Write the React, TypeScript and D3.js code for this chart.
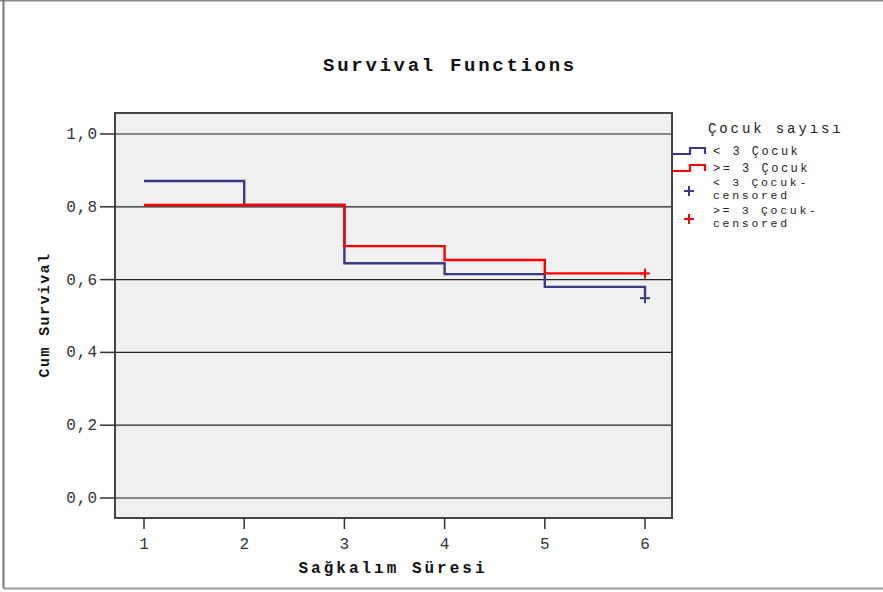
import React from "react";
import * as d3 from "d3";

// Survival times (years) and Kaplan–Meier estimates per group
const times = [1, 2, 3, 4, 5, 6];
const survLess3 = [0.871, 0.805, 0.645, 0.615, 0.58, 0.549];
const survMore3 = [0.805, 0.805, 0.692, 0.654, 0.617, 0.617];
const censorTime = 6;
const yTicks = [0, 0.2, 0.4, 0.6, 0.8, 1.0];
const xTicks = [1, 2, 3, 4, 5, 6];
const groupLabels = ["< 3 Çocuk", ">= 3 Çocuk"];
const censorLabels = [["< 3 Çocuk-", "censored"], [">= 3 Çocuk-", "censored"]];
const legendTitle = "Çocuk sayısı";

const W = 883;
const H = 592;
const plot = { left: 115, right: 672, top: 113, bottom: 518 };
const BLUE = "#3a3a88";
const RED = "#ff0000";
const MONO = "'Liberation Mono', 'DejaVu Sans Mono', monospace";

const x = d3.scaleLinear().domain([1, 6]).range([144, 645]);
const y = d3.scaleLinear().domain([0, 1]).range([498, 134]);

const stepLine = d3
  .line<[number, number]>()
  .x((d) => x(d[0]))
  .y((d) => y(d[1]))
  .curve(d3.curveStepAfter);

const fmt = (v: number) => v.toFixed(1).replace(".", ",");

function Plus({ cx, cy, color }: { cx: number; cy: number; color: string }) {
  return (
    <g stroke={color} strokeWidth={2}>
      <line x1={cx - 5} x2={cx + 5} y1={cy} y2={cy} />
      <line x1={cx} x2={cx} y1={cy - 5} y2={cy + 5} />
    </g>
  );
}

export default function App() {
  const series = [
    { vals: survLess3, color: BLUE },
    { vals: survMore3, color: RED },
  ];
  return (
    <svg
      width={W}
      height={H}
      style={{ position: "absolute", left: 0, top: 0, background: "#fff" }}
    >
      {/* outer frame */}
      <line x1={0} x2={W} y1={0.5} y2={0.5} stroke="#888" strokeWidth={2} />
      <line x1={3.5} x2={3.5} y1={0} y2={588} stroke="#777" strokeWidth={2} />
      <line x1={3} x2={W} y1={588.5} y2={588.5} stroke="#999" strokeWidth={2} />

      <text
        x={450}
        y={71}
        textAnchor="middle"
        fontFamily={MONO}
        fontWeight="bold"
        fontSize={19}
        letterSpacing={2.7}
        fill="#111"
      >
        Survival Functions
      </text>

      {/* plot panel */}
      <rect
        x={plot.left}
        y={plot.top}
        width={plot.right - plot.left}
        height={plot.bottom - plot.top}
        fill="#f0f0f0"
      />
      {yTicks.map((t) => (
        <line
          key={"g" + t}
          x1={plot.left}
          x2={plot.right}
          y1={y(t)}
          y2={y(t)}
          stroke="#222"
          strokeWidth={1.2}
        />
      ))}
      <rect
        x={plot.left}
        y={plot.top}
        width={plot.right - plot.left}
        height={plot.bottom - plot.top}
        fill="none"
        stroke="#444"
        strokeWidth={2}
      />

      {/* y axis */}
      {yTicks.map((t) => (
        <g key={"y" + t}>
          <line x1={100} x2={plot.left} y1={y(t)} y2={y(t)} stroke="#333" strokeWidth={1.5} />
          <text
            x={98}
            y={y(t) + 5}
            textAnchor="end"
            fontFamily={MONO}
            fontSize={16}
            letterSpacing={1}
            fill="#333"
          >
            {fmt(t)}
          </text>
        </g>
      ))}
      <text
        transform={`translate(49,315) rotate(-90)`}
        textAnchor="middle"
        fontFamily={MONO}
        fontWeight="bold"
        fontSize={15}
        letterSpacing={1.4}
        fill="#111"
      >
        Cum Survival
      </text>

      {/* x axis */}
      {xTicks.map((t) => (
        <g key={"x" + t}>
          <line x1={x(t)} x2={x(t)} y1={plot.bottom} y2={529} stroke="#333" strokeWidth={1.5} />
          <text
            x={x(t)}
            y={549}
            textAnchor="middle"
            fontFamily={MONO}
            fontSize={16}
            fill="#333"
          >
            {t}
          </text>
        </g>
      ))}
      <text
        x={393}
        y={573}
        textAnchor="middle"
        fontFamily={MONO}
        fontWeight="bold"
        fontSize={16}
        letterSpacing={3}
        fill="#111"
      >
        Sağkalım Süresi
      </text>

      {/* survival step curves */}
      {series.map((s, i) => (
        <path
          key={"s" + i}
          d={stepLine(times.map((t, j) => [t, s.vals[j]] as [number, number])) || ""}
          fill="none"
          stroke={s.color}
          strokeWidth={2.4}
        />
      ))}
      {series.map((s, i) => (
        <Plus
          key={"c" + i}
          cx={x(censorTime)}
          cy={y(s.vals[times.indexOf(censorTime)])}
          color={s.color}
        />
      ))}

      {/* legend */}
      <text
        x={708}
        y={133}
        fontFamily={MONO}
        fontSize={14}
        letterSpacing={2.9}
        fill="#222"
      >
        {legendTitle}
      </text>
      {[BLUE, RED].map((c, i) => {
        const base = 154 + i * 17;
        return (
          <g key={"l" + i}>
            <path
              d={`M673,${base}H690V${base - 6}H705V${base}`}
              fill="none"
              stroke={c}
              strokeWidth={2.2}
            />
            <text
              x={713}
              y={base + 1}
              fontFamily={MONO}
              fontSize={12}
              letterSpacing={2.5}
              fill="#222"
            >
              {groupLabels[i]}
            </text>
          </g>
        );
      })}
      {[BLUE, RED].map((c, i) => {
        const cy = 191 + i * 28;
        return (
          <g key={"lc" + i}>
            <Plus cx={689} cy={cy} color={c} />
            <text
              x={713}
              y={cy - 5}
              fontFamily={MONO}
              fontSize={11.5}
              letterSpacing={2.7}
              fill="#222"
            >
              {censorLabels[i][0]}
            </text>
            <text
              x={713}
              y={cy + 8}
              fontFamily={MONO}
              fontSize={11.5}
              letterSpacing={2.7}
              fill="#222"
            >
              {censorLabels[i][1]}
            </text>
          </g>
        );
      })}
    </svg>
  );
}
